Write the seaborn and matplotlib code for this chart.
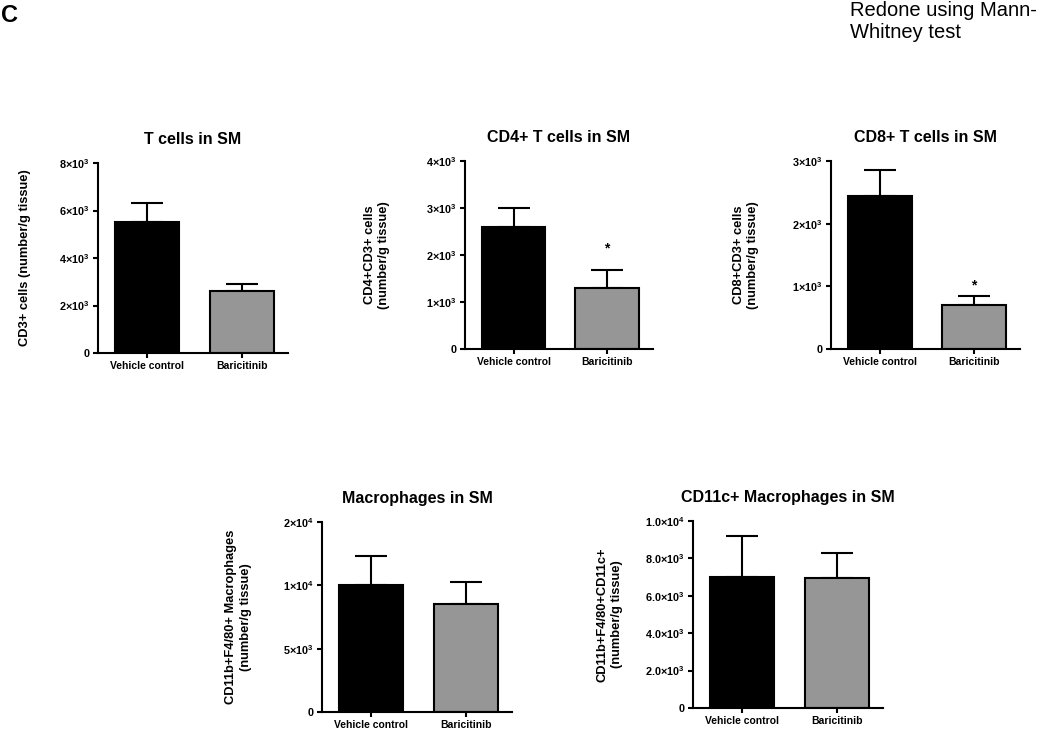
import matplotlib
matplotlib.use("Agg")
import matplotlib.pyplot as plt
import seaborn as sns
import numpy as np

# ---------------- data ----------------
groups = ["Vehicle control", "Baricitinib"]
bar_colors = ["#000000", "#969696"]

t_means = [5500, 2600]
t_sem = [830, 310]
t_ticks = [0, 2000, 4000, 6000, 8000]
t_ticklabels = ["0", "2×10$^3$", "4×10$^3$", "6×10$^3$", "8×10$^3$"]

cd4_means = [2600, 1300]
cd4_sem = [410, 390]
cd4_ticks = [0, 1000, 2000, 3000, 4000]
cd4_ticklabels = ["0", "1×10$^3$", "2×10$^3$", "3×10$^3$", "4×10$^3$"]

cd8_means = [2440, 705]
cd8_sem = [410, 145]
cd8_ticks = [0, 1000, 2000, 3000]
cd8_ticklabels = ["0", "1×10$^3$", "2×10$^3$", "3×10$^3$"]

mac_means = [10000, 8500]
mac_sem = [2300, 1800]
mac_ticks = [0, 5000, 10000, 15000]
mac_ticklabels = ["0", "5×10$^3$", "1×10$^4$", "2×10$^4$"]

cd11c_means = [7000, 6950]
cd11c_sem = [2200, 1350]
cd11c_ticks = [0, 2000, 4000, 6000, 8000, 10000]
cd11c_ticklabels = ["0", "2.0×10$^3$", "4.0×10$^3$", "6.0×10$^3$", "8.0×10$^3$", "1.0×10$^4$"]

significance = {"cd4": [False, True], "cd8": [False, True]}

# ---------------- style ----------------
sns.set_theme(style="ticks")
plt.rcParams["font.family"] = ["Liberation Sans", "DejaVu Sans"]
plt.rcParams["font.weight"] = "bold"
plt.rcParams["mathtext.default"] = "regular"
for k in ["text.color", "axes.labelcolor", "xtick.color", "ytick.color", "axes.edgecolor"]:
    plt.rcParams[k] = "black"

W, H = 1050, 730
fig = plt.figure(figsize=(W / 100, H / 100), dpi=100)


def px_axes(left, top, right, bottom):
    return fig.add_axes([left / W, 1 - bottom / H, (right - left) / W, (bottom - top) / H])


panels = [
    dict(box=(98, 163, 288, 353), title="T cells in SM",
         ylabel="CD3+ cells (number/g tissue)", ylx=-0.385,
         means=t_means, sem=t_sem, ticks=t_ticks, labels=t_ticklabels, sig=None, star_off=0),
    dict(box=(465, 161, 653, 349), title="CD4+ T cells in SM",
         ylabel="CD4+CD3+ cells\n(number/g tissue)", ylx=-0.47,
         means=cd4_means, sem=cd4_sem, ticks=cd4_ticks, labels=cd4_ticklabels,
         sig=significance["cd4"], star_off=10),
    dict(box=(831, 161, 1020, 349), title="CD8+ T cells in SM",
         ylabel="CD8+CD3+ cells\n(number/g tissue)", ylx=-0.45,
         means=cd8_means, sem=cd8_sem, ticks=cd8_ticks, labels=cd8_ticklabels,
         sig=significance["cd8"], star_off=2),
    dict(box=(322, 522, 512, 712), title="Macrophages in SM",
         ylabel="CD11b+F4/80+ Macrophages\n(number/g tissue)", ylx=-0.44,
         means=mac_means, sem=mac_sem, ticks=mac_ticks, labels=mac_ticklabels, sig=None, star_off=0),
    dict(box=(693, 521, 883, 708), title="CD11c+ Macrophages in SM",
         ylabel="CD11b+F4/80+CD11c+\n(number/g tissue)", ylx=-0.44,
         means=cd11c_means, sem=cd11c_sem, ticks=cd11c_ticks, labels=cd11c_ticklabels, sig=None, star_off=0),
]

LW = 1.5
for p in panels:
    ax = px_axes(*p["box"])
    x = np.arange(len(groups))
    ax.errorbar(x, p["means"], yerr=[np.zeros(len(groups)), p["sem"]], fmt="none",
                ecolor="black", elinewidth=LW, capsize=11.5, capthick=LW, zorder=1)
    sns.barplot(x=groups, y=p["means"], hue=groups, palette=bar_colors, saturation=1,
                edgecolor="black", linewidth=LW, width=0.68, legend=False, ax=ax, zorder=2)
    ax.set_xlim(-0.52, 1.49)
    ax.set_ylim(0, p["ticks"][-1])
    ax.set_yticks(p["ticks"])
    ax.set_yticklabels(p["labels"], fontsize=7.8, fontweight="bold")
    ax.set_xticks(x)
    ax.set_xticklabels(groups, fontsize=7.5, fontweight="bold")
    sns.despine(ax=ax)
    for s in ["left", "bottom"]:
        ax.spines[s].set_linewidth(LW)
        ax.spines[s].set_color("black")
    ax.tick_params(axis="both", width=LW, length=3.5, color="black", pad=2.5)
    ax.set_xlabel("")
    ax.set_ylabel(p["ylabel"], fontsize=9.3, fontweight="bold", linespacing=1.25)
    ax.yaxis.label.set_va("center")
    ax.yaxis.set_label_coords(p["ylx"], 0.5)
    ax.set_title(p["title"], fontsize=11.5, fontweight="bold", pad=14, color="black")
    if p["sig"]:
        for xi, (m, e, s) in enumerate(zip(p["means"], p["sem"], p["sig"])):
            if s:
                ax.annotate("*", (xi, m + e), xytext=(0, p["star_off"]), textcoords="offset points",
                            ha="center", va="bottom", fontsize=10, fontweight="bold")

fig.text(1 / W, 1 - 4 / H, "C", fontsize=17, fontweight="bold", ha="left", va="top")
fig.text(850 / W, 1 - 1 / H, "Redone using Mann-\nWhitney test", fontsize=14.5,
         fontweight="normal", ha="left", va="top", linespacing=1.22)

fig.savefig("out.png", dpi=100)
